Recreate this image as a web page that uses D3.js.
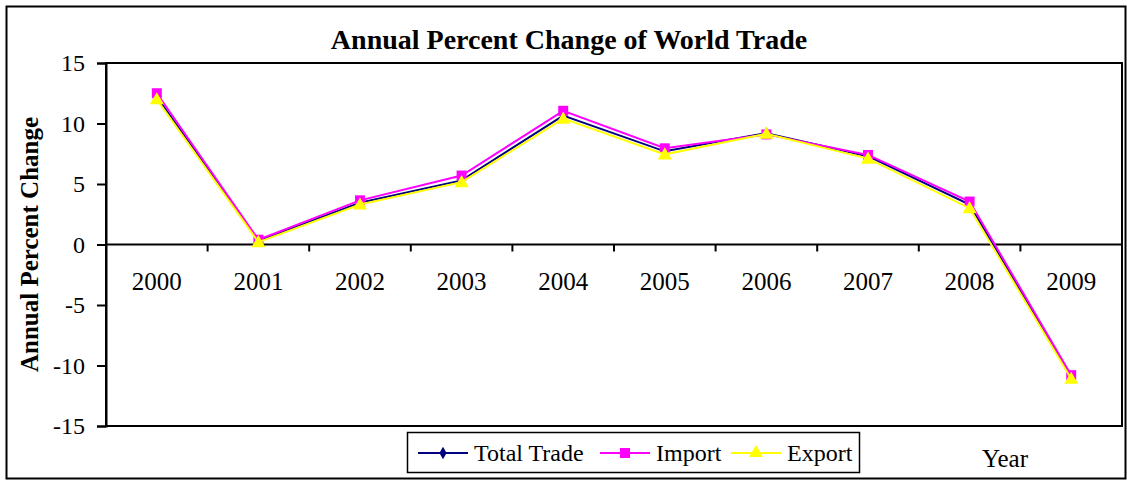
<!DOCTYPE html>
<html><head><meta charset="utf-8">
<script src="https://cdn.jsdelivr.net/npm/d3@7"></script>
<style>body{margin:0;background:#fff}svg text{font-family:"Liberation Serif","Times New Roman",serif !important}</style>
</head><body><svg id="c" width="1127" height="480" font-family="Liberation Serif"></svg>
<script>
const years = ["2000","2001","2002","2003","2004","2005","2006","2007","2008","2009"];
const totalTrade = [12.2, 0.3, 3.45, 5.3, 10.65, 7.7, 9.2, 7.3, 3.3, -10.95];
const importVals = [12.5, 0.4, 3.65, 5.7, 11.05, 7.95, 9.1, 7.4, 3.55, -10.8];
const exportVals = [12.0, 0.2, 3.3, 5.15, 10.4, 7.45, 9.15, 7.1, 3.0, -11.1];
const yTicks = [-15, -10, -5, 0, 5, 10, 15];
const seriesNames = ["Total Trade", "Import", "Export"];
const seriesColors = ["#000080", "#FF00FF", "#FFFF00"];
const seriesSymbols = [d3.symbolDiamond, d3.symbolSquare, d3.symbolTriangle];
const seriesSizes = [45, 100, 85];

const svg = d3.select("#c");
const L = 106, R = 1122, T = 63, B = 426;
const x = d3.scaleBand().domain(years).range([L, R]);
const y = d3.scaleLinear().domain([-15, 15]).range([B, T]);

// outer border
svg.append("rect").attr("x", 6.5).attr("y", 6.5).attr("width", 1119).attr("height", 472)
  .attr("fill", "none").attr("stroke", "#000").attr("stroke-width", 2);

// plot border
svg.append("rect").attr("x", L).attr("y", T).attr("width", R - L).attr("height", B - T)
  .attr("fill", "none").attr("stroke", "#000").attr("stroke-width", 2);

// y axis
const ya = svg.append("g").attr("transform", `translate(${L},0)`)
  .call(d3.axisLeft(y).tickValues(yTicks).tickSize(9).tickPadding(12).tickFormat(d3.format("d")));
ya.attr("font-family", "Liberation Serif").attr("font-size", 24);
ya.selectAll("path,line").attr("stroke", "#000").attr("stroke-width", 2);
ya.selectAll("text").attr("font-size", 24).attr("fill", "#000")
  .attr("font-family", "Liberation Serif")
  .text(d => d < 0 ? "-" + Math.abs(d) : d);

// zero line with category ticks
svg.append("line").attr("x1", L).attr("x2", R).attr("y1", y(0)).attr("y2", y(0))
  .attr("stroke", "#000").attr("stroke-width", 2);
years.slice(1).forEach(yr => {
  svg.append("line").attr("x1", x(yr)).attr("x2", x(yr)).attr("y1", y(0)).attr("y2", y(0) + 7)
    .attr("stroke", "#000").attr("stroke-width", 2);
});
years.forEach(yr => {
  svg.append("text").attr("x", x(yr) + x.bandwidth() / 2).attr("y", y(0) + 45)
    .attr("text-anchor", "middle").attr("font-size", 25).text(yr);
});

// title
svg.append("text").attr("x", 569).attr("y", 49).attr("text-anchor", "middle")
  .attr("font-size", 28).attr("font-weight", "bold").text("Annual Percent Change of World Trade");

// y label
svg.append("text").attr("transform", `translate(38,${y(0)}) rotate(-90)`).attr("text-anchor", "middle")
  .attr("font-size", 25).attr("font-weight", "bold").text("Annual Percent Change");

// x label
svg.append("text").attr("x", 1005).attr("y", 467).attr("text-anchor", "middle")
  .attr("font-size", 25).text("Year");

// series
const data = [totalTrade, importVals, exportVals];
const cx = d => x(d) + x.bandwidth() / 2;
const line = d3.line().x((d, i) => cx(years[i])).y(d => y(d));
data.forEach((vals, s) => {
  svg.append("path").datum(vals).attr("d", line).attr("fill", "none")
    .attr("stroke", seriesColors[s]).attr("stroke-width", 2);
  svg.selectAll(null).data(vals).enter().append("path")
    .attr("d", d3.symbol().type(seriesSymbols[s]).size(seriesSizes[s]))
    .attr("transform", (d, i) => `translate(${cx(years[i])},${y(d) + (s === 2 ? 1 : 0)})`)
    .attr("fill", seriesColors[s]);
});

// legend
svg.append("rect").attr("x", 407.5).attr("y", 432.5).attr("width", 452).attr("height", 40)
  .attr("fill", "#fff").attr("stroke", "#000").attr("stroke-width", 1.5);
const legX = [418, 600, 731];
seriesNames.forEach((n, s) => {
  const lx = legX[s];
  svg.append("line").attr("x1", lx).attr("x2", lx + 50).attr("y1", 453).attr("y2", 453)
    .attr("stroke", seriesColors[s]).attr("stroke-width", 2);
  svg.append("path").attr("d", d3.symbol().type(seriesSymbols[s]).size(seriesSizes[s]))
    .attr("transform", `translate(${lx + 25},453)`).attr("fill", seriesColors[s]);
  svg.append("text").attr("x", lx + 56).attr("y", 461).attr("font-size", 24).text(n);
});
</script></body></html>
